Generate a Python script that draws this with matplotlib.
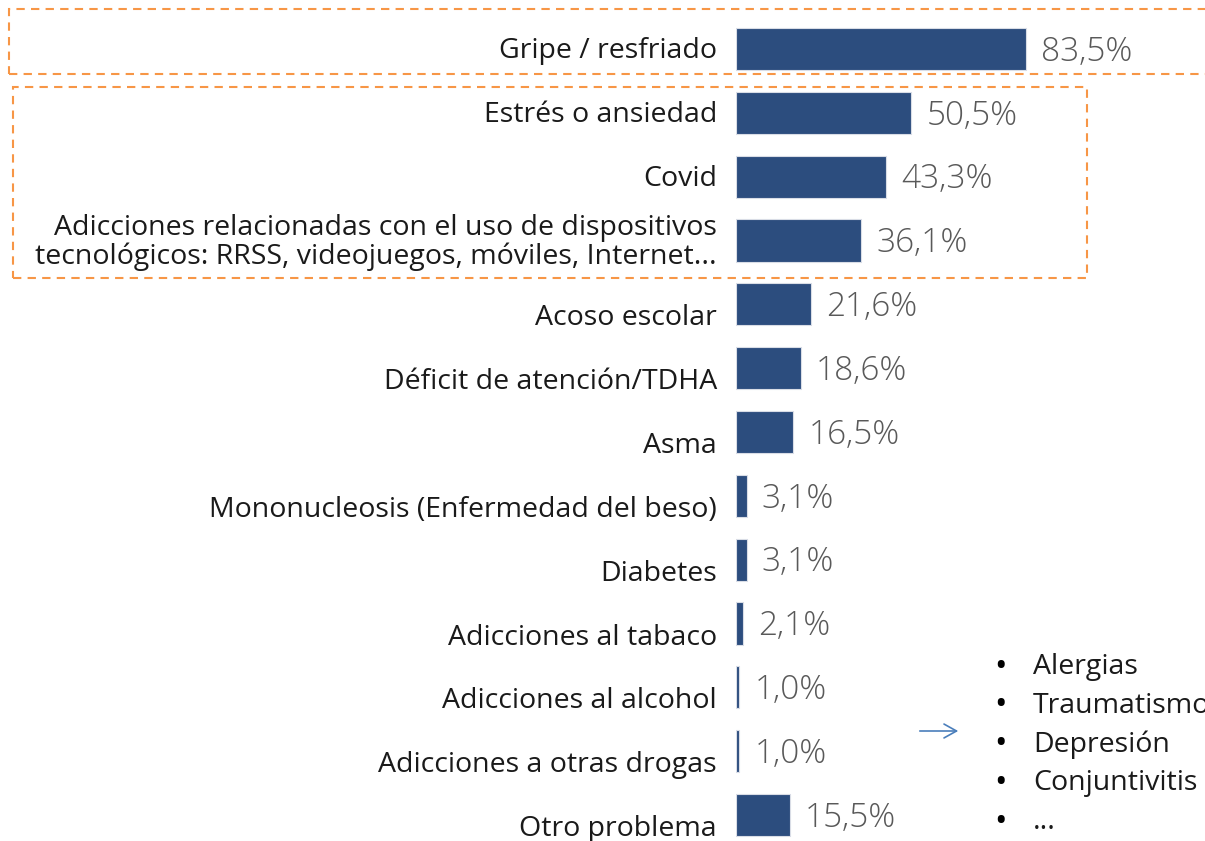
import matplotlib
matplotlib.use("Agg")
import matplotlib.pyplot as plt
from matplotlib.patches import Rectangle, FancyArrowPatch

plt.rcParams['font.family'] = ['Open Sans', 'DejaVu Sans']

categories = [
    "Gripe / resfriado",
    "Estrés o ansiedad",
    "Covid",
    "Adicciones relacionadas con el uso de dispositivos\ntecnológicos: RRSS, videojuegos, móviles, Internet...",
    "Acoso escolar",
    "Déficit de atención/TDHA",
    "Asma",
    "Mononucleosis (Enfermedad del beso)",
    "Diabetes",
    "Adicciones al tabaco",
    "Adicciones al alcohol",
    "Adicciones a otras drogas",
    "Otro problema",
]
values = [83.5, 50.5, 43.3, 36.1, 21.6, 18.6, 16.5, 3.1, 3.1, 2.1, 1.0, 1.0, 15.5]
other_items = ["Alergias", "Traumatismos", "Depresión", "Conjuntivitis", "..."]

W, H = 1205, 841
BAR = "#2C4D7E"
ORANGE = "#F79646"

fig = plt.figure(figsize=(W / 100, H / 100), dpi=100)
# axes placed so that 0% sits at x=736px and rows are ~64px apart
ax = fig.add_axes([736 / W, (H - 847) / H, 347.3 / W, 830 / H])
ax.set_xlim(0, 100)
ax.set_ylim(len(values) - 0.5, -0.5)
ax.axis("off")

ypos = list(range(len(values)))
ax.barh(ypos, values, height=0.66, color=BAR, edgecolor="#D9DDE6", linewidth=0.8)

for i, (cat, v) in enumerate(zip(categories, values)):
    dy = -2 if i < 4 else -14
    ax.annotate(cat, (0, i), xytext=(-19, dy), textcoords="offset pixels",
                ha="right", va="center", fontsize=20.5, color="#1A1A1A",
                linespacing=1.05)
    ax.annotate(f"{v:.1f}%".replace(".", ","), (v, i), xytext=(15, -3),
                textcoords="offset pixels", ha="left", va="center",
                fontsize=24, color="#595959", fontweight="light")

# dashed highlight boxes
def px_box(x0, y0, x1, y1):
    fig.patches.append(Rectangle((x0 / W, 1 - y1 / H), (x1 - x0) / W, (y1 - y0) / H,
                                 transform=fig.transFigure, fill=False,
                                 edgecolor=ORANGE, linestyle=(0, (4, 3)),
                                 linewidth=1.5, clip_on=False))

px_box(9, 9, 1215, 74)
px_box(13, 87, 1087, 278)

# arrow and list of other problems
fig.patches.append(FancyArrowPatch((917 / W, 1 - 731 / H), (961 / W, 1 - 731 / H),
                                   transform=fig.transFigure, arrowstyle="->,head_length=9,head_width=5",
                                   color="#4A7EBB", linewidth=1.2, mutation_scale=1))
for k, item in enumerate(other_items):
    y = 1 - (667 + k * 38.8) / H
    fig.text(994 / W, y, "•", ha="left", va="center", fontsize=24, color="#000000")
    fig.text(1033 / W, y, item, ha="left", va="center", fontsize=20.5, color="#1A1A1A")

fig.savefig("out.png", dpi=100)
